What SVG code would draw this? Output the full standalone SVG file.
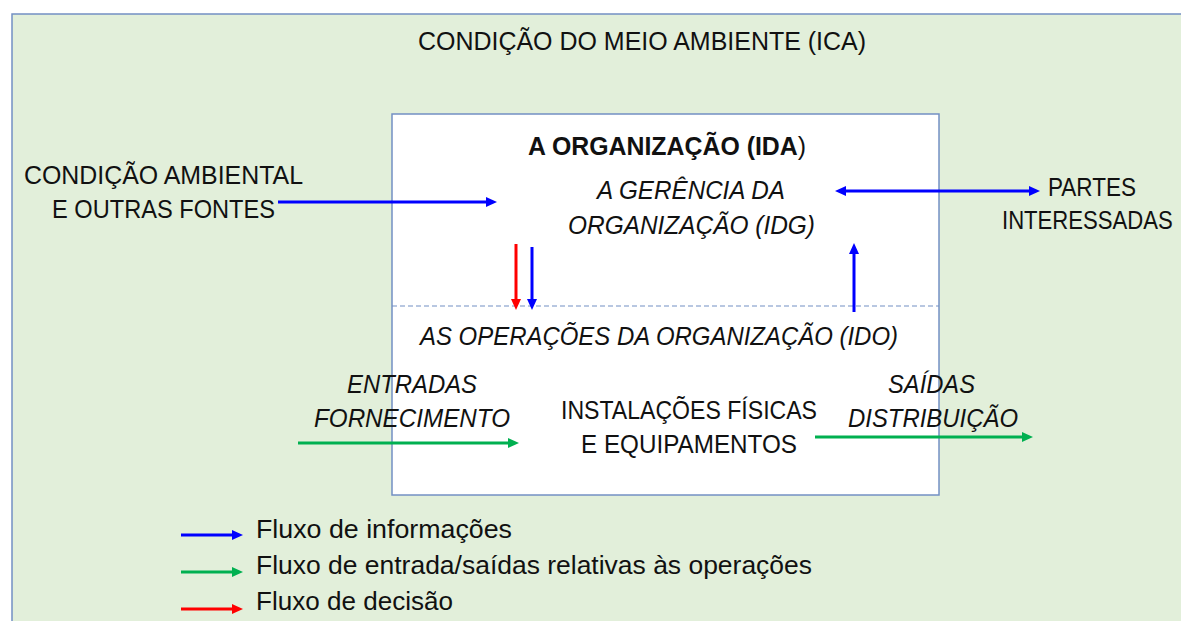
<svg xmlns="http://www.w3.org/2000/svg" width="1181" height="621" viewBox="0 0 1181 621">
<style>
text{font-family:"Liberation Sans",Arial,sans-serif;font-size:25px;fill:#111;}
.it{font-style:italic;}
.b{font-weight:bold;}
.frame{stroke:#7390C4;stroke-width:1.5;}
.c{fill:none;stroke-width:3;}
.blue{stroke:#0000FF;}
.green{stroke:#00B050;}
.red{stroke:#FF0000;}
</style>
<defs>
<marker id="ab" markerUnits="userSpaceOnUse" markerWidth="11" markerHeight="10" refX="2" refY="5" orient="auto-start-reverse"><path d="M0,0 L11,5 L0,10 z" fill="#0000FF"/></marker>
<marker id="ag" markerUnits="userSpaceOnUse" markerWidth="11" markerHeight="10" refX="2" refY="5" orient="auto-start-reverse"><path d="M0,0 L11,5 L0,10 z" fill="#00B050"/></marker>
<marker id="ar" markerUnits="userSpaceOnUse" markerWidth="11" markerHeight="10" refX="2" refY="5" orient="auto-start-reverse"><path d="M0,0 L11,5 L0,10 z" fill="#FF0000"/></marker>
</defs>
<rect width="1181" height="621" fill="#FFFFFF"/>
<g id="environment">
<rect class="frame" x="12" y="14" width="1180" height="620" fill="#E2EFDA"/>
<text x="418" y="50" textLength="448" lengthAdjust="spacingAndGlyphs">CONDIÇÃO DO MEIO AMBIENTE (ICA)</text>
</g>
<g id="organization">
<rect class="frame" x="392" y="114" width="547" height="381" fill="#FFFFFF"/>
<line x1="392" y1="306" x2="939" y2="306" stroke="#7390C4" stroke-width="1.2" stroke-dasharray="5,3"/>
<text x="528" y="155" textLength="278" lengthAdjust="spacingAndGlyphs"><tspan class="b">A ORGANIZAÇÃO (IDA</tspan>)</text>
</g>
<g id="management">
<text class="it" x="597" y="199" textLength="188" lengthAdjust="spacingAndGlyphs">A GERÊNCIA DA</text>
<text class="it" x="568" y="234" textLength="247" lengthAdjust="spacingAndGlyphs">ORGANIZAÇÃO (IDG)</text>
</g>
<g id="operations">
<text class="it" x="420" y="345" textLength="478" lengthAdjust="spacingAndGlyphs">AS OPERAÇÕES DA ORGANIZAÇÃO (IDO)</text>
</g>
<g id="facilities">
<text x="561" y="419" textLength="256" lengthAdjust="spacingAndGlyphs">INSTALAÇÕES FÍSICAS</text>
<text x="581" y="453" textLength="216" lengthAdjust="spacingAndGlyphs">E EQUIPAMENTOS</text>
</g>
<g id="sources">
<text x="24" y="184" textLength="279" lengthAdjust="spacingAndGlyphs">CONDIÇÃO AMBIENTAL</text>
<text x="52" y="218" textLength="223" lengthAdjust="spacingAndGlyphs">E OUTRAS FONTES</text>
</g>
<g id="stakeholders">
<text x="1048" y="196" textLength="88" lengthAdjust="spacingAndGlyphs">PARTES</text>
<text transform="translate(1002,229) scale(0.885,1)">INTERESSADAS</text>
</g>
<g id="inputs">
<text class="it" x="347" y="393" textLength="130" lengthAdjust="spacingAndGlyphs">ENTRADAS</text>
<text class="it" x="314" y="427" textLength="196" lengthAdjust="spacingAndGlyphs">FORNECIMENTO</text>
</g>
<g id="outputs">
<text class="it" x="888" y="393" textLength="87" lengthAdjust="spacingAndGlyphs">SAÍDAS</text>
<text class="it" x="848" y="427" textLength="170" lengthAdjust="spacingAndGlyphs">DISTRIBUIÇÃO</text>
</g>
<g id="connectors">
<line class="c blue" x1="278" y1="202" x2="488" y2="202" marker-end="url(#ab)"/>
<line class="c blue" x1="844" y1="191" x2="1031" y2="191" marker-start="url(#ab)" marker-end="url(#ab)"/>
<line class="c red" x1="516" y1="244" x2="516" y2="301" marker-end="url(#ar)"/>
<line class="c blue" x1="532" y1="247" x2="532" y2="301" marker-end="url(#ab)"/>
<line class="c blue" x1="854" y1="312" x2="854" y2="252" marker-end="url(#ab)"/>
<line class="c green" x1="298" y1="443" x2="510" y2="443" marker-end="url(#ag)"/>
<line class="c green" x1="815" y1="437" x2="1024" y2="437" marker-end="url(#ag)"/>
</g>
<g id="legend">
<line class="c blue" x1="181" y1="535" x2="234" y2="535" marker-end="url(#ab)"/>
<line class="c green" x1="181" y1="572" x2="234" y2="572" marker-end="url(#ag)"/>
<line class="c red" x1="181" y1="609" x2="234" y2="609" marker-end="url(#ar)"/>
<text x="256" y="538" textLength="256" lengthAdjust="spacingAndGlyphs">Fluxo de informações</text>
<text x="256" y="574" textLength="556" lengthAdjust="spacingAndGlyphs">Fluxo de entrada/saídas relativas às operações</text>
<text x="256" y="610" textLength="197" lengthAdjust="spacingAndGlyphs">Fluxo de decisão</text>
</g>
</svg>
